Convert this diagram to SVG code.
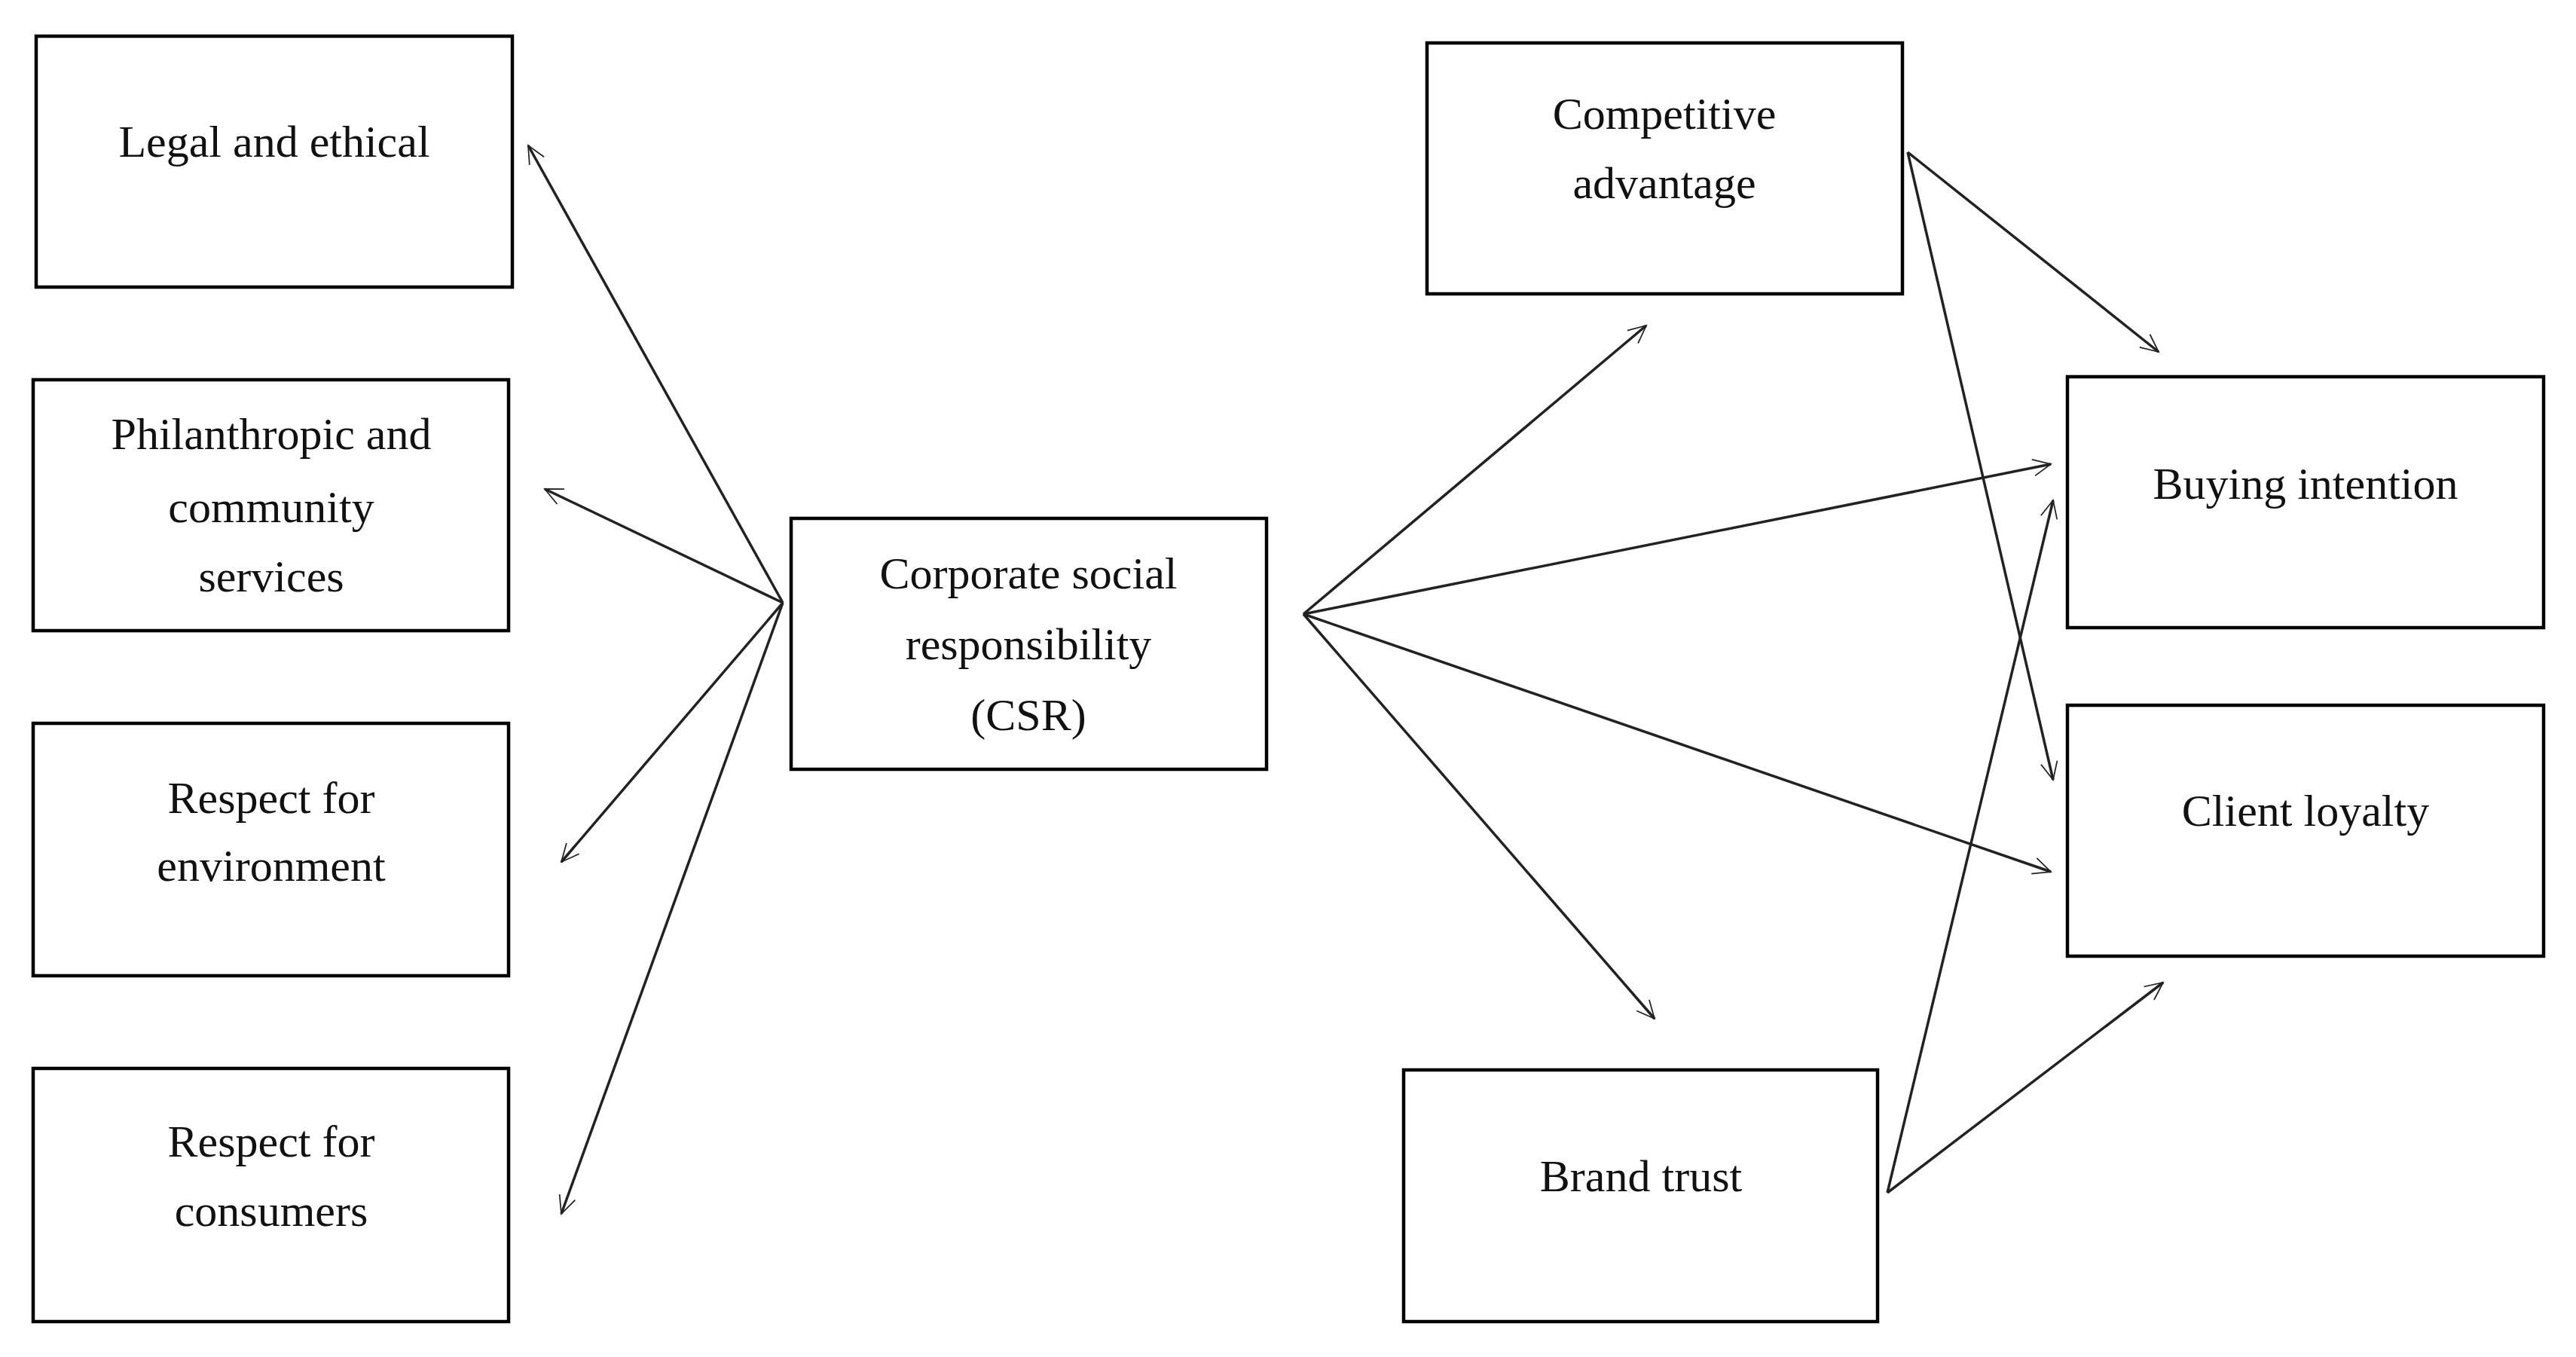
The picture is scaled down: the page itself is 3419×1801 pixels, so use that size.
<svg xmlns="http://www.w3.org/2000/svg" width="3419" height="1801" viewBox="0 0 3419 1801">
<style>
rect{fill:#fff;stroke:#000;stroke-width:4.5}
text{font-family:"Liberation Serif","DejaVu Serif",serif;font-size:60px;text-anchor:middle;fill:#111}
line{stroke:#222;stroke-width:3.5}
</style>
<defs>
<marker id="a" viewBox="0 0 20 20" refX="19" refY="10" markerWidth="10" markerHeight="10" markerUnits="userSpaceOnUse" orient="auto" overflow="visible">
<path d="M-28,-12 L19,10 L-28,32" transform="translate(0,0)" fill="none" stroke="#222" stroke-width="3.5"/>
</marker>
</defs>
<rect width="3419" height="1801" style="stroke:none"/>
<g id="legal"><rect x="48" y="48" width="632" height="333"/><text x="364" y="208">Legal and ethical</text></g>
<g id="phil"><rect x="44" y="504" width="631" height="333"/><text x="360" y="596">Philanthropic and</text><text x="360" y="693">community</text><text x="360" y="785">services</text></g>
<g id="env"><rect x="44" y="960" width="631" height="335"/><text x="360" y="1079">Respect for</text><text x="360" y="1169">environment</text></g>
<g id="cons"><rect x="44" y="1418" width="631" height="336"/><text x="360" y="1535">Respect for</text><text x="360" y="1627">consumers</text></g>
<g id="csr"><rect x="1050" y="688" width="631" height="333"/><text x="1365" y="781">Corporate social</text><text x="1365" y="875">responsibility</text><text x="1365" y="969">(CSR)</text></g>
<g id="comp"><rect x="1894" y="57" width="631" height="333"/><text x="2209" y="171">Competitive</text><text x="2209" y="263">advantage</text></g>
<g id="buy"><rect x="2744" y="500" width="632" height="333"/><text x="3060" y="662">Buying intention</text></g>
<g id="loyal"><rect x="2744" y="936" width="632" height="333"/><text x="3060" y="1096">Client loyalty</text></g>
<g id="trust"><rect x="1863" y="1420" width="629" height="334"/><text x="2178" y="1581">Brand trust</text></g>
<g id="connectors">
<line x1="1039" y1="800" x2="701" y2="193" marker-end="url(#a)"/>
<line x1="1039" y1="800" x2="723" y2="649" marker-end="url(#a)"/>
<line x1="1039" y1="800" x2="745" y2="1144" marker-end="url(#a)"/>
<line x1="1039" y1="800" x2="745" y2="1611" marker-end="url(#a)"/>
<line x1="1730" y1="815" x2="2185" y2="432" marker-end="url(#a)"/>
<line x1="1730" y1="815" x2="2722" y2="616" marker-end="url(#a)"/>
<line x1="1730" y1="815" x2="2722" y2="1157" marker-end="url(#a)"/>
<line x1="1730" y1="815" x2="2196" y2="1352" marker-end="url(#a)"/>
<line x1="2532" y1="202" x2="2865" y2="467" marker-end="url(#a)"/>
<line x1="2532" y1="202" x2="2725" y2="1035" marker-end="url(#a)"/>
<line x1="2505" y1="1583" x2="2725" y2="664" marker-end="url(#a)"/>
<line x1="2505" y1="1583" x2="2871" y2="1304" marker-end="url(#a)"/>
</g>
</svg>
